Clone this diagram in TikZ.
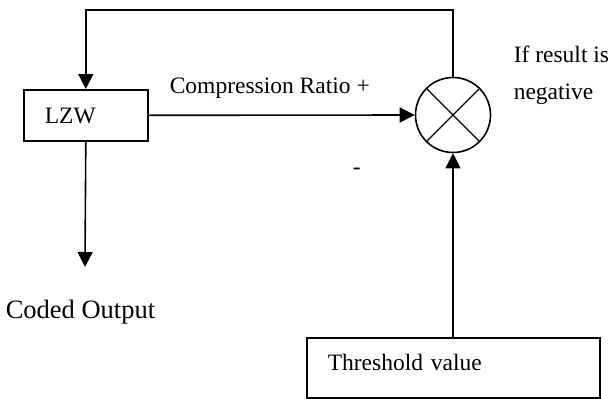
\documentclass[tikz,border=0pt]{standalone}
\usepackage{fontspec}
\setmainfont{Liberation Serif}
\usetikzlibrary{arrows.meta}
\begin{document}
\begin{tikzpicture}[x=1pt,y=-1pt,
  line width=1.6pt,
  every node/.style={font=\fontsize{23.5}{28}\selectfont},
  blockbox/.style={draw, rectangle, align=left, inner ysep=0pt},
  lbl/.style={inner sep=0pt, anchor=base west},
  arr/.style={-{Triangle[length=15pt,width=15pt]}}]
\useasboundingbox (0,0) rectangle (611,399);
% LZW block
\node[blockbox, anchor=north west, text width=82pt, inner xsep=21pt,
      text height=34pt, text depth=17pt] (lzw) at (23,89) {LZW};
% summing junction
\node[draw, circle, minimum size=75pt, inner sep=0pt] (sum) at (453,115) {};
\draw[line width=1.4pt] (sum.north west) -- (sum.south east);
\draw[line width=1.4pt] (sum.north east) -- (sum.south west);
% threshold block
\node[blockbox, anchor=north west, text width=251pt, inner xsep=21pt,
      text height=33pt, text depth=27pt] (thr) at (306,337) {Threshold value};
% coordinates
\coordinate (top) at (453,10);
\coordinate (out) at (85,267);
% connectors
\draw[arr] (sum.north) -- (top) -| (lzw.north);
\draw[arr] (lzw.east) -- (sum.west);
\draw[arr] (lzw.south) -- (out);
\draw[arr] (thr.north -| sum.south) -- (sum.south);
% labels
\node[lbl] (cr) at (169,93) {Compression Ratio +};
\node[lbl] (minus) at (352,174) {-};
\node[lbl] (if1) at (513,62) {If result is};
\node[lbl] (if2) at (513,99) {negative};
\node[lbl, font=\fontsize{26.5}{30}\selectfont] (coded) at (5,318) {Coded Output};
\end{tikzpicture}
\end{document}
